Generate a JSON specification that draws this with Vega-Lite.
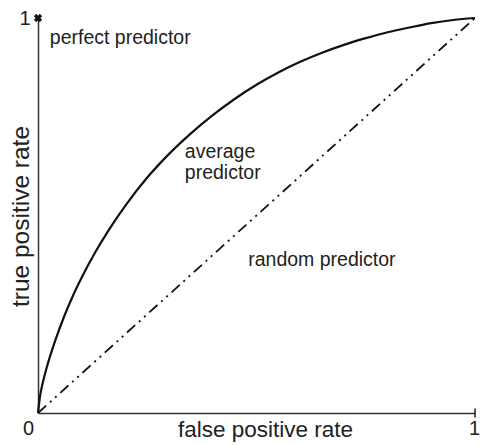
{
  "$schema": "https://vega.github.io/schema/vega-lite/v6.json",
  "width": 437,
  "height": 395,
  "autosize": {"type": "none"},
  "padding": {"left": 38, "top": 18, "right": 5, "bottom": 32},
  "background": "white",
  "config": {"view": {"stroke": null}, "font": "Liberation Sans"},
  "datasets": {
    "curve": [
      {"x": 0, "y": 0},
      {"x": 0.005, "y": 0.045},
      {"x": 0.01, "y": 0.072},
      {"x": 0.02, "y": 0.115},
      {"x": 0.04, "y": 0.185},
      {"x": 0.06, "y": 0.245},
      {"x": 0.08, "y": 0.297},
      {"x": 0.1, "y": 0.343},
      {"x": 0.13, "y": 0.405},
      {"x": 0.16, "y": 0.46},
      {"x": 0.2, "y": 0.525},
      {"x": 0.25, "y": 0.596},
      {"x": 0.3, "y": 0.656},
      {"x": 0.35, "y": 0.708},
      {"x": 0.4, "y": 0.754},
      {"x": 0.45, "y": 0.795},
      {"x": 0.5, "y": 0.831},
      {"x": 0.55, "y": 0.862},
      {"x": 0.6, "y": 0.889},
      {"x": 0.65, "y": 0.912},
      {"x": 0.7, "y": 0.932},
      {"x": 0.75, "y": 0.949},
      {"x": 0.8, "y": 0.964},
      {"x": 0.85, "y": 0.976},
      {"x": 0.9, "y": 0.987},
      {"x": 0.95, "y": 0.995},
      {"x": 1, "y": 1}
    ],
    "diag": [{"x": 0, "y": 0}, {"x": 1, "y": 1}],
    "labels": [
      {"x": 0.027, "y": 0.95, "label": "perfect predictor"},
      {"x": 0.336, "y": 0.661, "label": "average"},
      {"x": 0.336, "y": 0.608, "label": "predictor"},
      {"x": 0.481, "y": 0.387, "label": "random predictor"}
    ]
  },
  "encoding": {
    "x": {
      "field": "x",
      "type": "quantitative",
      "scale": {"domain": [0, 1], "nice": false},
      "axis": {
        "values": [0, 1],
        "format": "d",
        "ticks": false,
        "grid": false,
        "domainColor": "#333",
        "domainWidth": 1.5,
        "labelFontSize": 20,
        "labelColor": "#222",
        "labelPadding": 5,
        "labelBaseline": "top",
        "labelFlush": false,
        "labelOffset": {"condition": {"test": "datum.value == 0", "value": -10}, "value": -1},
        "title": "false positive rate",
        "titleFontSize": 22.5,
        "titleFontWeight": "normal",
        "titleColor": "#222",
        "titleX": 227,
        "titleY": 23,
        "titleAlign": "center",
        "titleBaseline": "alphabetic"
      }
    },
    "y": {
      "field": "y",
      "type": "quantitative",
      "scale": {"domain": [0, 1], "nice": false},
      "axis": {
        "values": [1],
        "format": "d",
        "ticks": false,
        "grid": false,
        "domainColor": "#333",
        "domainWidth": 1.5,
        "labelFontSize": 20,
        "labelColor": "#222",
        "labelPadding": 8,
        "labelBaseline": "middle",
        "labelFlush": false,
        "title": "true positive rate",
        "titleFontSize": 24.5,
        "titleFontWeight": "normal",
        "titleColor": "#222",
        "titleX": -10,
        "titleY": 198,
        "titleAngle": -90,
        "titleAlign": "center",
        "titleBaseline": "alphabetic"
      }
    }
  },
  "layer": [
    {
      "data": {"name": "diag"},
      "mark": {"type": "line", "color": "#111", "strokeWidth": 1.8, "strokeDash": [11, 5, 2, 5, 2, 5]}
    },
    {
      "data": {"name": "curve"},
      "mark": {"type": "line", "interpolate": "monotone", "color": "#111", "strokeWidth": 2.2}
    },
    {
      "data": {"values": [{"x": 1, "y": 0}]},
      "mark": {"type": "tick", "orient": "vertical", "size": 9, "thickness": 2, "color": "#111"}
    },
    {
      "data": {"values": [{"x": 0, "y": 1}]},
      "mark": {"type": "point", "shape": "cross", "angle": 45, "size": 70, "filled": true, "color": "#111", "opacity": 1}
    },
    {
      "data": {"name": "labels"},
      "mark": {"type": "text", "align": "left", "baseline": "middle", "fontSize": 19.5, "color": "#222"},
      "encoding": {"text": {"field": "label", "type": "nominal"}}
    }
  ]
}
